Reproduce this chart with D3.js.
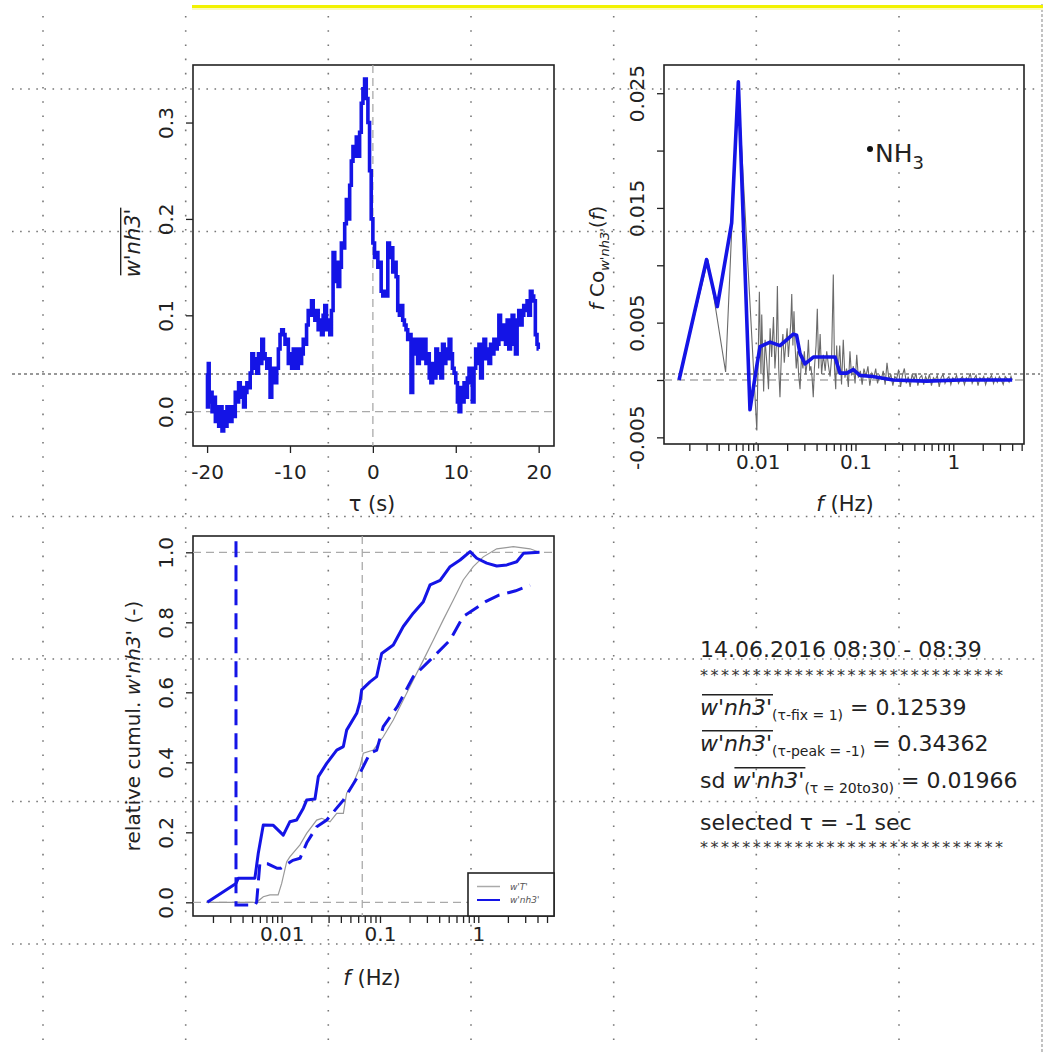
<!DOCTYPE html>
<html>
<head>
<meta charset="utf-8">
<script src="https://cdn.jsdelivr.net/npm/d3@7"></script>
<style>
  body { margin: 0; background: #fff; }
  svg text { font-family: "DejaVu Sans", sans-serif; }
</style>
</head>
<body>
<div id="chart"></div>
<script>
// Kovarianz w'nh3' über die Zeitverschiebung tau (s)
const lagData = [
  [-20.0,0.040],[-19.9,0.005],[-19.8,0.050],[-19.7,0.010],[-19.5,0.020],[-19.3,0.000],[-19.1,0.015],[-18.9,-0.010],
  [-18.7,0.005],[-18.5,-0.015],[-18.3,0.005],[-18.1,-0.020],[-17.9,0.000],[-17.7,-0.015],[-17.5,0.005],[-17.3,-0.005],
  [-17.1,-0.010],[-16.9,0.005],[-16.7,-0.005],[-16.5,0.020],[-16.3,0.010],[-16.1,0.030],[-15.9,0.015],[-15.7,0.025],
  [-15.5,0.005],[-15.3,0.020],[-15.1,0.030],[-14.9,0.025],[-14.7,0.040],[-14.5,0.060],[-14.3,0.045],[-14.1,0.055],
  [-13.9,0.040],[-13.7,0.060],[-13.5,0.050],[-13.3,0.075],[-13.1,0.060],[-12.9,0.055],[-12.7,0.045],[-12.5,0.055],
  [-12.3,0.015],[-12.1,0.035],[-11.9,0.045],[-11.7,0.030],[-11.5,0.045],[-11.3,0.065],[-11.1,0.080],[-10.9,0.085],
  [-10.7,0.080],[-10.5,0.070],[-10.3,0.075],[-10.1,0.050],[-9.9,0.060],[-9.7,0.045],[-9.5,0.065],[-9.3,0.055],
  [-9.1,0.045],[-8.9,0.065],[-8.7,0.050],[-8.5,0.060],[-8.3,0.075],[-8.1,0.070],[-7.9,0.090],[-7.7,0.105],
  [-7.5,0.100],[-7.3,0.115],[-7.1,0.100],[-6.9,0.095],[-6.7,0.105],[-6.5,0.085],[-6.3,0.095],[-6.1,0.080],
  [-5.9,0.100],[-5.7,0.110],[-5.5,0.085],[-5.3,0.095],[-5.1,0.080],[-4.9,0.105],[-4.7,0.165],[-4.5,0.135],
  [-4.3,0.155],[-4.1,0.130],[-3.9,0.150],[-3.7,0.175],[-3.5,0.170],[-3.3,0.195],[-3.1,0.220],[-2.9,0.200],
  [-2.7,0.235],[-2.5,0.260],[-2.3,0.275],[-2.1,0.265],[-1.9,0.285],[-1.7,0.265],[-1.5,0.290],[-1.3,0.320],
  [-1.1,0.335],[-0.9,0.345],[-0.7,0.325],[-0.5,0.300],[-0.3,0.250],[-0.1,0.200],[0.1,0.175],[0.3,0.160],
  [0.5,0.165],[0.7,0.150],[0.9,0.155],[1.1,0.125],[1.3,0.120],[1.5,0.125],[1.7,0.120],[1.9,0.175],
  [2.1,0.160],[2.3,0.170],[2.5,0.145],[2.7,0.155],[2.9,0.140],[3.1,0.105],[3.3,0.100],[3.5,0.110],
  [3.7,0.095],[3.9,0.090],[4.1,0.085],[4.3,0.075],[4.5,0.080],[4.7,0.020],[4.9,0.060],[5.1,0.075],
  [5.3,0.065],[5.5,0.050],[5.7,0.075],[5.9,0.070],[6.1,0.055],[6.3,0.075],[6.5,0.050],[6.7,0.060],
  [6.9,0.035],[7.1,0.030],[7.3,0.050],[7.5,0.035],[7.7,0.065],[7.9,0.040],[8.1,0.060],[8.3,0.035],
  [8.5,0.070],[8.7,0.050],[8.9,0.065],[9.1,0.055],[9.3,0.075],[9.5,0.060],[9.7,0.045],[9.9,0.040],
  [10.1,0.030],[10.3,0.010],[10.5,0.000],[10.7,0.025],[10.9,0.010],[11.1,0.030],[11.3,0.015],[11.5,0.035],
  [11.7,0.045],[11.9,0.030],[12.1,0.010],[12.3,0.045],[12.5,0.065],[12.7,0.050],[12.9,0.070],[13.1,0.035],
  [13.3,0.060],[13.5,0.075],[13.7,0.055],[13.9,0.065],[14.1,0.050],[14.3,0.070],[14.5,0.060],[14.7,0.075],
  [14.9,0.065],[15.1,0.070],[15.3,0.100],[15.5,0.085],[15.7,0.075],[15.9,0.090],[16.1,0.070],[16.3,0.095],
  [16.5,0.065],[16.7,0.085],[16.9,0.100],[17.1,0.070],[17.3,0.060],[17.5,0.095],[17.7,0.105],[17.9,0.090],
  [18.1,0.100],[18.3,0.110],[18.5,0.105],[18.7,0.115],[18.9,0.100],[19.1,0.125],[19.3,0.120],[19.5,0.115],
  [19.7,0.080],[19.9,0.070],[20.0,0.065]
];
const lagXTicks = [-20, -10, 0, 10, 20];
const lagYTicks = [0, 0.1, 0.2, 0.3];
const lagYLabels = ["0.0", "0.1", "0.2", "0.3"];

// Kospektrum: roh (grau) und geglättet (blau), f in Hz
const coRaw = [
  [0.00157,0.0000],[0.0031,0.0105],[0.0047,0.0007],[0.0063,0.0260],[0.0098,-0.0044],[0.0104,0.0077],[0.0108,0.0005],
  [0.0110,0.0057],[0.0115,-0.0010],[0.0119,0.0035],[0.0124,0.0015],[0.0129,-0.0008],[0.0134,0.0045],[0.0139,0.0020],
  [0.0145,0.0055],[0.0150,0.0010],[0.0155,0.0030],[0.0159,0.0082],[0.0164,0.0010],[0.0169,-0.0015],[0.0175,0.0025],
  [0.0181,0.0040],[0.0187,0.0015],[0.0193,0.0030],[0.0200,0.0045],[0.0206,0.0020],[0.0212,0.0035],[0.0218,0.0050],
  [0.0223,0.0075],[0.0229,0.0030],[0.0235,0.0060],[0.0241,0.0030],[0.0248,0.0010],[0.0255,0.0025],[0.0262,0.0005],
  [0.0271,-0.0008],[0.0280,0.0020],[0.0290,0.0010],[0.0300,0.0025],[0.0310,0.0005],[0.0320,0.0015],[0.0330,0.0035],
  [0.0340,0.0008],[0.0350,0.0012],[0.0360,0.0002],[0.0370,-0.0015],[0.0380,0.0010],[0.0395,0.0030],[0.0407,0.0062],
  [0.0420,0.0010],[0.0435,0.0040],[0.0450,0.0005],[0.0469,0.0022],[0.0490,0.0008],[0.0508,0.0025],[0.0530,0.0012],
  [0.0550,0.0003],[0.0570,0.0020],[0.0593,0.0092],[0.0610,0.0010],[0.0628,-0.0008],[0.0642,0.0030],[0.0660,0.0005],
  [0.0690,0.0030],[0.0720,-0.0004],[0.0750,0.0035],[0.0780,0.0002],[0.0810,0.0010],[0.0845,-0.0006],[0.0878,0.0025],
  [0.0910,0.0004],[0.0950,0.0012],[0.0990,-0.0003],[0.1030,0.0022],[0.107,0.0002],[0.112,0.0008],[0.117,-0.0004],
  [0.122,0.0010],[0.128,0.0003],[0.134,0.0012],[0.140,-0.0005],[0.147,0.0006],[0.154,0.0002],[0.161,0.0010],
  [0.168,-0.0003],[0.176,0.0004],[0.184,0.0001],[0.192,0.0008],[0.201,-0.0004],[0.210,0.0015],[0.220,0.0000],
  [0.230,0.0005],[0.241,-0.0005],[0.252,0.0003],[0.264,0.0001],[0.276,0.0009],[0.289,-0.0006],[0.302,0.0004],
  [0.316,0.0010],[0.331,-0.0003],[0.346,0.0003],[0.362,-0.0006],[0.379,0.0005],[0.397,0.0000],[0.415,0.0006],
  [0.434,-0.0005],[0.455,0.0002],[0.476,0.0004],[0.498,-0.0004],[0.521,0.0003],[0.546,-0.0001],[0.571,0.0005],
  [0.598,-0.0005],[0.626,0.0002],[0.655,0.0000],[0.686,0.0004],[0.718,-0.0006],[0.751,0.0002],[0.786,0.0005],
  [0.823,-0.0003],[0.861,0.0001],[0.902,0.0003],[0.944,-0.0004],[0.988,0.0002],[1.03,0.0000],[1.08,0.0004],
  [1.13,-0.0003],[1.19,0.0001],[1.24,0.0003],[1.30,-0.0004],[1.36,0.0002],[1.42,0.0000],[1.49,0.0006],
  [1.56,-0.0003],[1.63,0.0001],[1.71,0.0004],[1.79,-0.0005],[1.87,0.0002],[1.96,0.0000],[2.05,0.0003],
  [2.14,-0.0004],[2.25,0.0002],[2.35,0.0001],[2.46,0.0004],[2.58,-0.0003],[2.70,0.0002],[2.82,-0.0002],
  [2.96,0.0003],[3.10,0.0000],[3.24,-0.0004],[3.39,0.0003],[3.55,0.0001],[3.72,-0.0002],[3.89,0.0003],[4.0,0.0000]
];
const coSmooth = [
  [0.00157,0.0000],[0.0030,0.0105],[0.00386,0.0064],[0.00542,0.0137],[0.00634,0.0260],[0.00834,-0.0026],
  [0.00977,0.0012],[0.01056,0.0029],[0.0134,0.0033],[0.0169,0.0030],[0.0231,0.0040],[0.0250,0.0039],
  [0.0271,0.0023],[0.0305,0.0014],[0.0371,0.0020],[0.0507,0.0020],[0.0617,0.0020],[0.0695,0.0006],
  [0.0813,0.0006],[0.0950,0.0009],[0.111,0.0004],[0.150,0.0003],[0.242,0.0000],[0.535,-0.0001],[1.17,0.0000],[4.0,0.0000]
];
const coYTicks = [-0.005, 0, 0.005, 0.01, 0.015, 0.02, 0.025];
const coYLabels = ["-0.005", "", "0.005", "", "0.015", "", "0.025"];

// log. Frequenzachse: alle Striche, beschriftet nur Dekaden
const freqTicks = [0.002,0.003,0.004,0.005,0.006,0.007,0.008,0.009,0.01,0.02,0.03,0.04,0.05,0.06,0.07,0.08,0.09,
  0.1,0.2,0.3,0.4,0.5,0.6,0.7,0.8,0.9,1,2,3,4,5];
const freqMajor = [0.01, 0.1, 1];
const freqLabels = ["0.01", "0.1", "1"];

// relative kumulierte Kospektren (Ogiven)
const cumT = [
  [0.00175,0.0],[0.00556,0.0],[0.0065,0.016],[0.0076,0.021],[0.0092,0.021],[0.0100,0.054],[0.01125,0.116],
  [0.0121,0.130],[0.01535,0.164],[0.01795,0.197],[0.0227,0.235],[0.0255,0.240],[0.0310,0.230],[0.0363,0.254],
  [0.0424,0.254],[0.0458,0.312],[0.0535,0.340],[0.0626,0.387],[0.0676,0.426],[0.0855,0.435],[0.108,0.473],
  [0.1365,0.521],[0.1725,0.578],[0.218,0.635],[0.276,0.692],[0.348,0.749],[0.44,0.807],[0.557,0.864],
  [0.703,0.921],[0.889,0.959],[1.124,0.987],[1.54,1.010],[2.27,1.016],[3.36,1.010],[4.19,1.000]
];
const cumNh3 = [
  [0.00175,0.0],[0.00343,0.054],[0.00362,0.069],[0.00534,0.069],[0.00578,0.140],[0.0065,0.221],[0.00822,0.220],
  [0.01038,0.192],[0.0121,0.230],[0.0142,0.235],[0.0166,0.269],[0.01795,0.292],[0.0218,0.295],[0.0236,0.359],
  [0.0287,0.397],[0.0363,0.435],[0.0424,0.445],[0.0458,0.492],[0.058,0.540],[0.0626,0.573],[0.0651,0.607],
  [0.0791,0.630],[0.0925,0.645],[0.104,0.711],[0.1365,0.735],[0.1725,0.788],[0.218,0.826],[0.276,0.859],
  [0.323,0.907],[0.409,0.920],[0.516,0.959],[0.653,0.978],[0.825,1.002],[0.964,0.983],[1.218,0.969],
  [1.54,0.961],[1.95,0.964],[2.46,0.973],[2.88,0.997],[4.19,1.000]
];
const cumNh3Dash = [
  [0.00343,1.10],[0.00343,-0.008],[0.00534,-0.008],[0.00556,0.0],[0.0060,0.111],[0.0072,0.110],[0.0090,0.097],
  [0.0098,0.097],[0.0130,0.120],[0.0154,0.126],[0.0180,0.170],[0.0227,0.216],[0.0287,0.235],[0.0424,0.292],
  [0.0626,0.369],[0.079,0.426],[0.0925,0.435],[0.108,0.502],[0.150,0.559],[0.218,0.645],[0.323,0.692],
  [0.516,0.749],[0.700,0.816],[1.20,0.860],[1.60,0.877],[2.40,0.890],[3.36,0.906]
];
const cumYTicks = [0, 0.2, 0.4, 0.6, 0.8, 1.0];
const cumYLabels = ["0.0", "0.2", "0.4", "0.6", "0.8", "1.0"];
const legendNames = ["w'T'", "w'nh3'"];

// Textblock rechts
const infoTitle = "14.06.2016 08:30 - 08:39";
const infoValues = ["0.12539", "0.34362", "0.01966"];
const infoSubs = ["(\u03c4-fix = 1)", "(\u03c4-peak = -1)", "(\u03c4 = 20to30)"];
const infoSelected = "selected \u03c4 = -1 sec";

const BLUE = "#1414e6";
const INK = "#222";

const svg = d3.select("#chart").append("svg")
  .attr("width", 1048).attr("height", 1052);

// Hintergrund: gepunktetes Raster der Vorlage
function drawBackground() {
  const g = svg.append("g");
  const xs = [43, 185.7, 328.3, 471, 613.7, 756.3, 899];
  const ys = [89, 231.5, 374, 516.5, 659, 801.5, 944];
  xs.forEach(x => g.append("line").attr("x1", x).attr("x2", x).attr("y1", 16).attr("y2", 1052)
    .attr("stroke", "#777").attr("stroke-width", 1.6).attr("stroke-dasharray", "1.6,12.6"));
  ys.forEach(y => g.append("line").attr("x1", 12).attr("x2", 1040).attr("y1", y).attr("y2", y)
    .attr("stroke", "#777").attr("stroke-width", 1.6)
    .attr("stroke-dasharray", y === 374 ? "3,3" : "1.6,6.5"));
  // rechter Rand und gelbe Linie oben
  g.append("line").attr("x1", 1042).attr("x2", 1042).attr("y1", 4).attr("y2", 1052)
    .attr("stroke", "#999").attr("stroke-width", 1.2).attr("stroke-dasharray", "3,2");
  g.append("rect").attr("x", 192).attr("y", 5).attr("width", 851).attr("height", 3).attr("fill", "#f2f200");
  g.append("rect").attr("x", 192).attr("y", 8).attr("width", 851).attr("height", 2).attr("fill", "#fafac0");
}

// Text aus Teilen (kursiv, tiefgestellt, Überstrich) nebeneinander setzen
function richText(g, parts, size) {
  let x = 0;
  parts.forEach(p => {
    const fs = p.size || size;
    const t = g.append("text")
      .attr("x", x).attr("y", p.dy || 0)
      .attr("font-size", fs)
      .attr("font-style", p.italic ? "italic" : "normal")
      .attr("fill", INK)
      .text(p.t.replace(/ /g, "\u00a0"));   // Leerzeichen sonst verschluckt
    const w = t.node().getComputedTextLength();
    if (p.over) {
      g.append("line").attr("x1", x + 2).attr("x2", x + w + 1)
        .attr("y1", -fs * 0.92).attr("y2", -fs * 0.92)
        .attr("stroke", INK).attr("stroke-width", 1.4);
    }
    x += w;
  });
  return x;
}

function rotatedLabel(cx, cy, parts, size) {
  const g = svg.append("g").attr("transform", `translate(${cx},${cy}) rotate(-90)`);
  const inner = g.append("g");
  const w = richText(inner, parts, size);
  inner.attr("transform", `translate(${-w / 2},0)`);
}

function centeredLabel(cx, cy, parts, size) {
  const g = svg.append("g").attr("transform", `translate(${cx},${cy})`);
  const inner = g.append("g");
  const w = richText(inner, parts, size);
  inner.attr("transform", `translate(${-w / 2},0)`);
}

// Rahmen, Achsen, Clip für ein Panel
function panel(id, box, x, y, xTicks, xFmt, yTicks, yFmt, xLabOff) {
  svg.append("clipPath").attr("id", id).append("rect")
    .attr("x", box.x0).attr("y", box.y0)
    .attr("width", box.x1 - box.x0).attr("height", box.y1 - box.y0);

  const ax = svg.append("g").attr("transform", `translate(0,${box.y1})`)
    .call(d3.axisBottom(x).tickValues(xTicks).tickFormat(xFmt).tickSize(7));
  ax.select(".domain").remove();
  ax.selectAll("line").attr("stroke", INK).attr("stroke-width", 1.3);
  ax.selectAll("text").attr("font-size", 20).attr("font-family", "DejaVu Sans")
    .attr("fill", INK).attr("y", xLabOff).attr("dy", 0);

  const ay = svg.append("g").attr("transform", `translate(${box.x0},0)`)
    .call(d3.axisLeft(y).tickValues(yTicks).tickFormat(yFmt).tickSize(7));
  ay.select(".domain").remove();
  ay.selectAll("line").attr("stroke", INK).attr("stroke-width", 1.3);
  ay.selectAll("text").attr("font-size", 20).attr("font-family", "DejaVu Sans")
    .attr("fill", INK).attr("text-anchor", "middle")
    .attr("x", 0).attr("y", -20).attr("dy", 0).attr("transform", "rotate(-90)");

  svg.append("rect").attr("x", box.x0).attr("y", box.y0)
    .attr("width", box.x1 - box.x0).attr("height", box.y1 - box.y0)
    .attr("fill", "none").attr("stroke", INK).attr("stroke-width", 1.6);

  return svg.append("g").attr("clip-path", `url(#${id})`);
}

function refLine(g, x1, y1, x2, y2) {
  g.append("line").attr("x1", x1).attr("y1", y1).attr("x2", x2).attr("y2", y2)
    .attr("stroke", "#aaa").attr("stroke-width", 1.3).attr("stroke-dasharray", "8,5");
}

drawBackground();

// ---- Panel 1: Kovarianz vs tau ----
{
  const box = {x0: 193, x1: 554, y0: 65, y1: 446};
  const x = d3.scaleLinear().domain([-21.7, 21.85]).range([box.x0, box.x1]);
  const y = d3.scaleLinear().domain([-0.0356, 0.3597]).range([box.y1, box.y0]);
  const g = panel("clip1", box, x, y, lagXTicks, d => d, lagYTicks, (d, i) => lagYLabels[i], 33);
  refLine(g, x(0), box.y0, x(0), box.y1);
  refLine(g, box.x0, y(0), box.x1, y(0));
  g.append("path").datum(lagData)
    .attr("d", d3.line().x(d => x(d[0])).y(d => y(d[1])).curve(d3.curveStep))
    .attr("fill", "none").attr("stroke", BLUE).attr("stroke-width", 3.6);
  centeredLabel(372, 511, [{t: "\u03c4 (s)"}], 21);
  rotatedLabel(140, 243, [{t: "w'nh3'", italic: true, over: true}], 21);
}

// ---- Panel 2: Kospektrum ----
{
  const box = {x0: 664, x1: 1024, y0: 65, y1: 444};
  const x = d3.scaleLog().domain([Math.pow(10, -2.958), Math.pow(10, 0.723)]).range([box.x0, box.x1]);
  const y = d3.scaleLinear().domain([-0.00558, 0.02746]).range([box.y1, box.y0]);
  const fmt = d => { const i = freqMajor.indexOf(d); return i >= 0 ? freqLabels[i] : ""; };
  const g = panel("clip2", box, x, y, freqTicks, fmt, coYTicks, (d, i) => coYLabels[i], 25);
  refLine(g, box.x0, y(0), box.x1, y(0));
  const line = d3.line().x(d => x(d[0])).y(d => y(d[1]));
  g.append("path").datum(coRaw).attr("d", line)
    .attr("fill", "none").attr("stroke", "#6a6a6a").attr("stroke-width", 1.1);
  g.append("path").datum(coSmooth).attr("d", line)
    .attr("fill", "none").attr("stroke", BLUE).attr("stroke-width", 3.6).attr("stroke-linejoin", "round");
  centeredLabel(845, 511, [{t: "f", italic: true}, {t: " (Hz)"}], 21);
  rotatedLabel(604, 258, [{t: "f", italic: true}, {t: " Co"}, {t: "w'nh3'", italic: true, size: 13, dy: 5},
    {t: "("}, {t: "f", italic: true}, {t: ")"}], 20);
  // Stoff-Kennzeichnung
  svg.append("circle").attr("cx", 870).attr("cy", 149).attr("r", 3).attr("fill", "#111");
  const lab = svg.append("g").attr("transform", "translate(875,162)");
  richText(lab, [{t: "NH"}, {t: "3", size: 18, dy: 7}], 25);
}

// ---- Panel 3: Ogiven ----
{
  const box = {x0: 193, x1: 554, y0: 536, y1: 916};
  const x = d3.scaleLog().domain([Math.pow(10, -2.902), Math.pow(10, 0.770)]).range([box.x0, box.x1]);
  const y = d3.scaleLinear().domain([-0.0391, 1.0466]).range([box.y1, box.y0]);
  const fmt = d => { const i = freqMajor.indexOf(d); return i >= 0 ? freqLabels[i] : ""; };
  const g = panel("clip3", box, x, y, freqTicks, fmt, cumYTicks, (d, i) => cumYLabels[i], 25);
  refLine(g, box.x0, y(0), box.x1, y(0));
  refLine(g, box.x0, y(1), box.x1, y(1));
  refLine(g, x(0.066), box.y0, x(0.066), box.y1);
  const line = d3.line().x(d => x(d[0])).y(d => y(d[1]));
  g.append("path").datum(cumT).attr("d", line)
    .attr("fill", "none").attr("stroke", "#999").attr("stroke-width", 1.2);
  g.append("path").datum(cumNh3Dash).attr("d", line)
    .attr("fill", "none").attr("stroke", BLUE).attr("stroke-width", 3).attr("stroke-dasharray", "16,8");
  g.append("path").datum(cumNh3).attr("d", line)
    .attr("fill", "none").attr("stroke", BLUE).attr("stroke-width", 3).attr("stroke-linejoin", "round");

  // Legende unten rechts
  const lg = svg.append("g");
  lg.append("rect").attr("x", 468).attr("y", 873).attr("width", 86).attr("height", 43)
    .attr("fill", "#fff").attr("stroke", INK).attr("stroke-width", 1.6);
  legendNames.forEach((name, i) => {
    const ly = 886.5 + i * 13.5;
    lg.append("line").attr("x1", 477).attr("x2", 500).attr("y1", ly).attr("y2", ly)
      .attr("stroke", i === 0 ? "#aaa" : BLUE).attr("stroke-width", i === 0 ? 1.5 : 2);
    lg.append("text").attr("x", 510).attr("y", ly + 3).attr("font-size", 9)
      .attr("font-style", "italic").attr("fill", "#555").text(name);
  });

  centeredLabel(372, 985, [{t: "f", italic: true}, {t: " (Hz)"}], 21);
  rotatedLabel(140, 726, [{t: "relative cumul. "}, {t: "w'nh3'", italic: true}, {t: " (-)"}], 20);
}

// ---- Textblock ----
{
  const x0 = 700;
  const t1 = svg.append("g").attr("transform", `translate(${x0},657)`);
  richText(t1, [{t: infoTitle}], 22);
  const stars = "*****************************";
  [681, 853].forEach(yy => {
    svg.append("text").attr("x", x0).attr("y", yy).attr("font-size", 16).attr("fill", "#333")
      .attr("textLength", 303).attr("lengthAdjust", "spacing").text(stars);
  });
  const rows = [715, 751, 788];
  rows.forEach((yy, i) => {
    const g = svg.append("g").attr("transform", `translate(${x0},${yy})`);
    const parts = [];
    if (i === 2) parts.push({t: "sd "});
    parts.push({t: "w'nh3'", italic: true, over: true});
    parts.push({t: infoSubs[i], size: 14, dy: 5});
    parts.push({t: " = " + infoValues[i]});
    richText(g, parts, 22);
  });
  const t6 = svg.append("g").attr("transform", `translate(${x0},830)`);
  richText(t6, [{t: infoSelected}], 22);
}
</script>
</body>
</html>
